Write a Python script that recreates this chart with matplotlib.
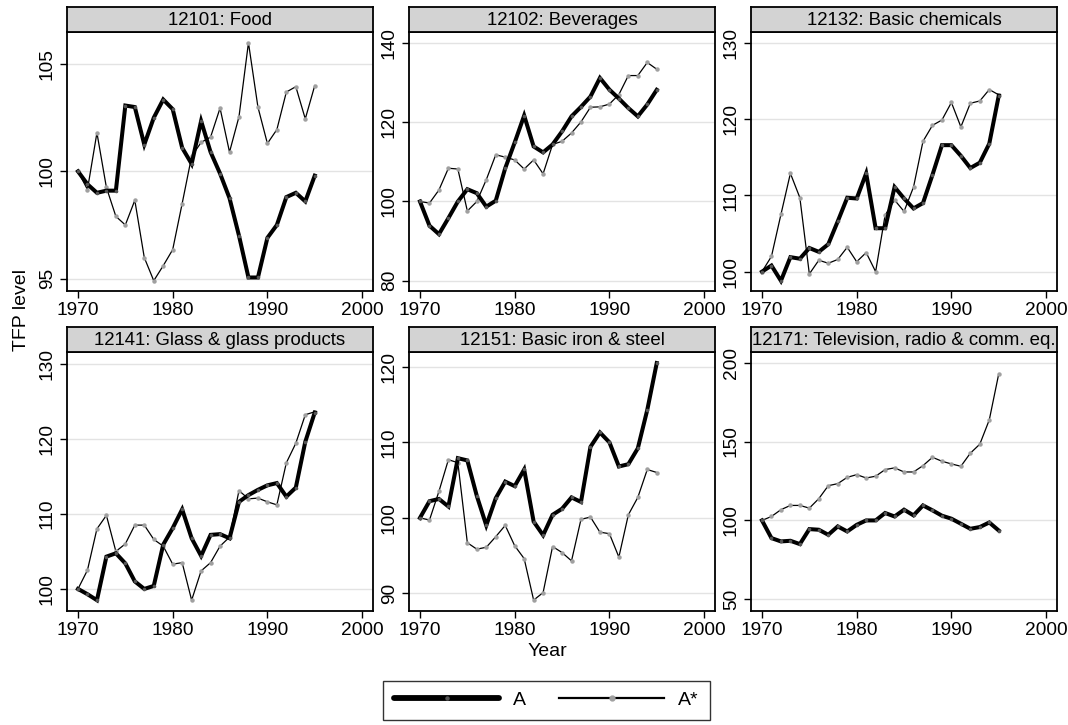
import matplotlib
matplotlib.use("Agg")
import matplotlib.pyplot as plt
from matplotlib.lines import Line2D
import numpy as np

plt.rcParams['font.family'] = ['Liberation Sans', 'DejaVu Sans']

years = list(range(1970, 1996))

titles = ["12101: Food", "12102: Beverages", "12132: Basic chemicals",
          "12141: Glass & glass products", "12151: Basic iron & steel",
          "12171: Television, radio & comm. eq."]

food_A = [100.0, 99.4, 99.0, 99.1, 99.1, 103.07, 103.0, 101.25, 102.5, 103.35, 102.9, 101.1, 100.35,
          102.35, 100.9, 99.9, 98.75, 97.0, 95.05, 95.05, 96.9, 97.5, 98.8, 99.0, 98.6, 99.8]
food_Astar = [100.0, 99.15, 101.8, 99.25, 97.9, 97.5, 98.65, 95.98, 94.9, 95.6, 96.35, 98.5, 100.7,
              101.35, 101.6, 102.95, 100.9, 102.55, 106.0, 103.0, 101.3, 101.95, 103.7, 103.95, 102.45, 104.0]

bev_A = [100.0, 93.9, 91.75, 95.8, 100.0, 103.1, 102.1, 98.7, 100.2, 108.4, 114.9, 121.7, 113.9,
         112.4, 114.4, 117.7, 121.5, 123.9, 126.5, 131.2, 128.25, 126.0, 123.6, 121.5, 124.5, 128.2]
bev_Astar = [100.0, 99.6, 102.9, 108.4, 108.2, 97.6, 100.0, 105.5, 111.8, 111.2, 110.5, 108.2, 110.5,
             107.0, 114.4, 115.2, 117.3, 120.1, 123.8, 123.9, 124.6, 127.0, 131.8, 131.8, 135.1, 133.4]

chem_A = [100.0, 100.8, 98.8, 101.9, 101.7, 103.1, 102.6, 103.6, 106.6, 109.7, 109.6, 112.9, 105.7,
          105.7, 111.1, 109.6, 108.3, 109.0, 112.7, 116.6, 116.6, 115.2, 113.6, 114.3, 116.8, 123.1]
chem_Astar = [100.0, 102.0, 107.5, 112.9, 109.7, 99.7, 101.5, 101.1, 101.6, 103.2, 101.3, 102.5, 100.0,
              107.4, 109.4, 107.9, 111.1, 117.1, 119.2, 119.9, 122.2, 119.0, 122.1, 122.4, 123.9, 123.2]

glass_A = [100.0, 99.3, 98.5, 104.3, 104.75, 103.4, 101.0, 100.0, 100.4, 105.9, 108.1, 110.6, 106.75,
           104.4, 107.2, 107.3, 106.75, 111.6, 112.5, 113.2, 113.8, 114.1, 112.3, 113.5, 119.6, 123.5]
glass_Astar = [100.0, 102.5, 108.0, 109.8, 105.0, 106.0, 108.5, 108.5, 106.6, 105.7, 103.3, 103.5, 98.5,
               102.4, 103.5, 105.7, 106.9, 113.1, 112.0, 112.1, 111.6, 111.2, 116.8, 119.4, 123.2, 123.6]

iron_A = [100.0, 102.2, 102.5, 101.5, 107.9, 107.6, 102.9, 99.0, 102.6, 104.8, 104.2, 106.4, 99.5,
          97.7, 100.4, 101.2, 102.7, 102.1, 109.4, 111.3, 110.0, 106.8, 107.1, 109.2, 114.3, 120.5]
iron_Astar = [100.0, 99.7, 103.5, 107.7, 107.3, 96.7, 95.85, 96.1, 97.5, 99.0, 96.3, 94.6, 89.1,
              90.1, 96.2, 95.4, 94.3, 99.8, 100.1, 98.1, 97.9, 94.8, 100.4, 102.7, 106.4, 106.0]

tv_A = [100.0, 88.8, 86.7, 87.1, 85.0, 94.5, 94.1, 90.9, 96.2, 93.0, 97.2, 100.0, 100.0,
        104.7, 102.5, 106.8, 103.2, 109.5, 106.4, 103.0, 101.1, 97.9, 94.7, 95.8, 98.7, 93.6]
tv_Astar = [100.0, 102.5, 106.8, 109.5, 109.5, 107.8, 113.8, 122.0, 123.3, 127.3, 129.0, 126.9, 128.0,
            132.2, 133.3, 130.7, 130.7, 134.7, 140.0, 137.5, 135.8, 134.3, 142.6, 148.3, 163.7, 192.9]

series_A = [food_A, bev_A, chem_A, glass_A, iron_A, tv_A]
series_Astar = [food_Astar, bev_Astar, chem_Astar, glass_Astar, iron_Astar, tv_Astar]

yticks = [[95, 100, 105], [80, 100, 120, 140], [100, 110, 120, 130],
          [100, 110, 120, 130], [90, 100, 110, 120], [50, 100, 150, 200]]
xticks = [1970, 1980, 1990, 2000]

# layout (limits per panel)
ylims = [(94.42, 106.5), (77.4, 142.8), (97.46, 131.45),
         (97.1, 131.6), (87.7, 122.0), (42.8, 206.9)]
xlim = (1968.84, 2001.15)

W, H = 1068, 725
fig = plt.figure(figsize=(W / 100, H / 100), dpi=100)

col_left = [67, 409, 751]
col_w = 306
row_top = [32, 351.7]   # top of plot area (px from top)
plot_h = 259
strip_h = 24.5
FS_TICK = 13.8
FS_STRIP = 13.4
FS_LAB = 14

for i in range(6):
    r, c = divmod(i, 3)
    left = col_left[c] / W
    bottom = 1 - (row_top[r] + plot_h) / H
    ax = fig.add_axes([left, bottom, col_w / W, plot_h / H])
    ax.set_xlim(*xlim)
    ax.set_ylim(*ylims[i])
    ax.set_yticks(yticks[i])
    ax.set_yticklabels([str(v) for v in yticks[i]], rotation=90, va='center')
    ax.set_xticks(xticks)
    ax.grid(axis='y', color='#e3e3e3', linewidth=1.0)
    ax.set_axisbelow(True)
    for s in ax.spines.values():
        s.set_linewidth(1.3)
        s.set_color('black')
    ax.tick_params(axis='both', direction='out', length=5, width=1.0, labelsize=FS_TICK, pad=3)
    ax.tick_params(axis='y', pad=3)
    ax.plot(years, series_Astar[i], color='black', linewidth=0.9, marker='o',
            markersize=2.2, markerfacecolor='#a0a0a0', markeredgecolor='#a0a0a0', zorder=3)
    ax.plot(years, series_A[i], color='black', linewidth=2.9, marker='o',
            markersize=1.6, markerfacecolor='#555555', markeredgecolor='#555555', zorder=4,
            solid_joinstyle='miter')
    # strip header
    sax = fig.add_axes([left, 1 - row_top[r] / H, col_w / W, strip_h / H])
    sax.set_facecolor('#d3d3d3')
    sax.set_xticks([])
    sax.set_yticks([])
    for s in sax.spines.values():
        s.set_linewidth(1.3)
        s.set_color('black')
    sax.text(0.5, 0.47, titles[i], ha='center', va='center', fontsize=FS_STRIP,
             transform=sax.transAxes, clip_on=True)

fig.text(22 / W, 1 - 310 / H, "TFP level", rotation=90, ha='center', va='center', fontsize=FS_LAB)
fig.text(547 / W, 1 - 651 / H, "Year", ha='center', va='center', fontsize=FS_LAB)

h1 = Line2D([], [], color='black', linewidth=4.2, marker='o', markersize=2.2,
            markerfacecolor='#555555', markeredgecolor='#555555', solid_capstyle='round')
h2 = Line2D([], [], color='black', linewidth=1.6, marker='o', markersize=3.5,
            markerfacecolor='#a0a0a0', markeredgecolor='#a0a0a0')
leg = fig.legend([h1, h2], ["A", "A*"], loc='center', bbox_to_anchor=(546.5 / W, 1 - 700 / H),
                 ncol=2, fontsize=FS_LAB, frameon=True, fancybox=False, handlelength=5.4,
                 handletextpad=0.72, columnspacing=1.7, numpoints=1, borderpad=0.55,
                 borderaxespad=0)
leg.get_frame().set_edgecolor('black')
leg.get_frame().set_linewidth(1.0)

fig.savefig("out.png", dpi=100, facecolor='white')
